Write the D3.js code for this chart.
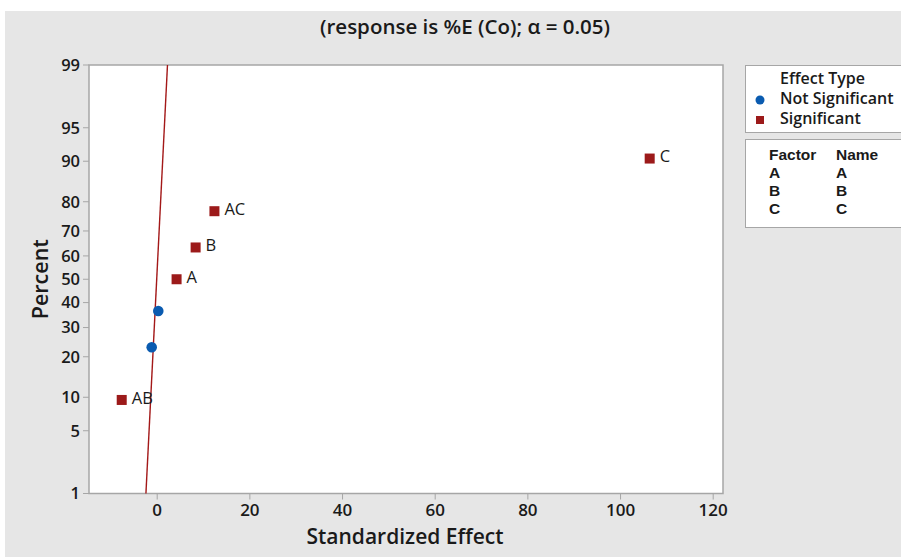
<!DOCTYPE html>
<html>
<head>
<meta charset="utf-8">
<script src="https://cdn.jsdelivr.net/npm/d3@7/dist/d3.min.js"></script>
<style>
  html, body { margin: 0; padding: 0; background: #ffffff; }
  svg { display: block; }
  text { font-family: "Open Sans", "Noto Sans", sans-serif; fill: #1a1a1a; }
  text.tbl { font-family: "Liberation Sans", Arial, sans-serif; }
</style>
</head>
<body>
<svg id="chart" width="901" height="557"></svg>
<script>
// Effects, ordered by rank
const terms       = ["AB", "BC", "ABC", "A", "B", "AC", "C"];
const effects     = [-7.55, -1.08, 0.34, 4.29, 8.4, 12.46, 106.4];
const percents    = [9.5, 23.0, 36.5, 50.0, 63.5, 77.0, 90.5];
const significant = [true, false, false, true, true, true, true];

// Reference line (effect vs. percent)
const refEffect  = [-2.326, 2.326];
const refPercent = [1, 99];

// Axis ticks
const xTicks = [0, 20, 40, 60, 80, 100, 120];
const yTicks = [1, 5, 10, 20, 30, 40, 50, 60, 70, 80, 90, 95, 99];

// Legend contents
const effectTypes = ["Not Significant", "Significant"];
const factors     = ["A", "B", "C"];
const factorNames = ["A", "B", "C"];

const colBlue = "#0a5bb0";
const colRed  = "#9c1a1a";

// Inverse standard normal CDF (Acklam)
function probit(p) {
  const a = [-3.969683028665376e+01, 2.209460984245205e+02, -2.759285104469687e+02,
             1.383577518672690e+02, -3.066479806614716e+01, 2.506628277459239e+00];
  const b = [-5.447609879822406e+01, 1.615858368580409e+02, -1.556989798598866e+02,
             6.680131188771972e+01, -1.328068155288572e+01];
  const c = [-7.784894002430293e-03, -3.223964580411365e-01, -2.400758277161838e+00,
             -2.549671010060251e+00, 4.374664141464968e+00, 2.938163982698783e+00];
  const d = [7.784695709041462e-03, 3.224671290700398e-01, 2.445134137142996e+00,
             3.754408661907416e+00];
  const pl = 0.02425, ph = 1 - pl;
  let q, r;
  if (p < pl) {
    q = Math.sqrt(-2 * Math.log(p));
    return (((((c[0]*q+c[1])*q+c[2])*q+c[3])*q+c[4])*q+c[5]) /
           ((((d[0]*q+d[1])*q+d[2])*q+d[3])*q+1);
  } else if (p <= ph) {
    q = p - 0.5; r = q * q;
    return (((((a[0]*r+a[1])*r+a[2])*r+a[3])*r+a[4])*r+a[5])*q /
           (((((b[0]*r+b[1])*r+b[2])*r+b[3])*r+b[4])*r+1);
  } else {
    q = Math.sqrt(-2 * Math.log(1 - p));
    return -(((((c[0]*q+c[1])*q+c[2])*q+c[3])*q+c[4])*q+c[5]) /
            ((((d[0]*q+d[1])*q+d[2])*q+d[3])*q+1);
  }
}

const svg = d3.select("#chart");

// Figure background
svg.append("rect").attr("x", 5).attr("y", 11).attr("width", 896).attr("height", 546)
  .attr("fill", "#e6e6e6");

const plot = { left: 89, right: 723, top: 65, bottom: 493.5 };

const x = d3.scaleLinear().domain([0, 120]).range([156.7, 712.7]);
const z = d3.scaleLinear().domain([probit(0.01), probit(0.99)]).range([plot.bottom, plot.top]);
const y = p => z(probit(p / 100));

// Plot area
svg.append("rect")
  .attr("x", plot.left).attr("y", plot.top)
  .attr("width", plot.right - plot.left).attr("height", plot.bottom - plot.top)
  .attr("fill", "#ffffff").attr("stroke", "#a6a6a6").attr("stroke-width", 1.5);

// X axis
const xAxis = svg.append("g").attr("transform", `translate(0,${plot.bottom})`)
  .call(d3.axisBottom(x).tickValues(xTicks).tickSize(6).tickPadding(4));
xAxis.select(".domain").remove();
xAxis.selectAll(".tick line").attr("stroke", "#a6a6a6");
xAxis.selectAll(".tick text").attr("font-size", 17).attr("font-weight", 600)
  .attr("fill", "#1a1a1a").style("font-family", "'Open Sans', sans-serif");

// Y axis (normal probability scale)
const yAxis = svg.append("g").attr("transform", `translate(${plot.left},0)`);
yTicks.forEach(t => {
  const g = yAxis.append("g").attr("transform", `translate(0,${y(t)})`);
  g.append("line").attr("x1", -6).attr("x2", 0).attr("stroke", "#a6a6a6");
  g.append("text").attr("x", -9).attr("dy", "0.35em").attr("text-anchor", "end")
    .attr("font-size", 16.5).attr("font-weight", 600).text(t);
});

// Reference line
svg.append("line")
  .attr("x1", x(refEffect[0])).attr("y1", y(refPercent[0]))
  .attr("x2", x(refEffect[1])).attr("y2", y(refPercent[1]))
  .attr("stroke", "#a31818").attr("stroke-width", 1.4);

// Points
const pts = terms.map((t, i) => ({ term: t, e: effects[i], p: percents[i], sig: significant[i] }));

svg.selectAll("circle.ns").data(pts.filter(d => !d.sig)).join("circle")
  .attr("class", "ns")
  .attr("cx", d => x(d.e)).attr("cy", d => y(d.p)).attr("r", 5.3)
  .attr("fill", colBlue);

const sq = 10;
svg.selectAll("rect.sig").data(pts.filter(d => d.sig)).join("rect")
  .attr("class", "sig")
  .attr("x", d => x(d.e) - sq / 2).attr("y", d => y(d.p) - sq / 2)
  .attr("width", sq).attr("height", sq)
  .attr("fill", colRed);

svg.selectAll("text.lbl").data(pts.filter(d => d.sig)).join("text")
  .attr("class", "lbl")
  .attr("x", d => x(d.e) + 10).attr("y", d => y(d.p) - 2)
  .attr("dy", "0.35em").attr("font-size", 16.5)
  .text(d => d.term);

// Title and axis titles
svg.append("text").attr("x", 465).attr("y", 27).attr("dy", "0.35em")
  .attr("text-anchor", "middle").attr("font-size", 20.5).attr("font-weight", 600)
  .text("(response is %E (Co); \u03b1 = 0.05)");

svg.append("text").attr("x", 405).attr("y", 537).attr("dy", "0.35em")
  .attr("text-anchor", "middle").attr("font-size", 21).attr("font-weight", 600)
  .text("Standardized Effect");

svg.append("text")
  .attr("transform", `translate(40,${(plot.top + plot.bottom) / 2}) rotate(-90)`)
  .attr("dy", "0.35em").attr("text-anchor", "middle")
  .attr("font-size", 21.5).attr("font-weight", 600)
  .text("Percent");

// Legend: effect type
const legFont = 16;
const leg1 = svg.append("g");
leg1.append("rect").attr("x", 745.5).attr("y", 65.5).attr("width", 170).attr("height", 67)
  .attr("fill", "#ffffff").attr("stroke", "#a6a6a6");
leg1.append("text").attr("x", 780).attr("y", 78).attr("dy", "0.35em")
  .attr("font-size", legFont).attr("font-weight", 600).text("Effect Type");
effectTypes.forEach((t, i) => {
  const cy = 98 + i * 20;
  if (i === 0) {
    leg1.append("circle").attr("cx", 760).attr("cy", cy + 2).attr("r", 4.5).attr("fill", colBlue);
  } else {
    leg1.append("rect").attr("x", 756).attr("y", cy - 2).attr("width", 8).attr("height", 8).attr("fill", colRed);
  }
  leg1.append("text").attr("x", 780).attr("y", cy).attr("dy", "0.35em")
    .attr("font-size", legFont).attr("font-weight", 600).text(t);
});

// Legend: factor names table (compact font so the 18px rows do not collide)
const leg2 = svg.append("g");
leg2.append("rect").attr("x", 745.5).attr("y", 139.5).attr("width", 170).attr("height", 88)
  .attr("fill", "#ffffff").attr("stroke", "#a6a6a6");
const columns = [
  { x: 769, lines: ["Factor", ...factors] },
  { x: 836, lines: ["Name", ...factorNames] }
];
columns.forEach(col => {
  col.lines.forEach((s, i) => {
    leg2.append("text").attr("class", "tbl")
      .attr("x", col.x).attr("y", 155 + i * 18).attr("dy", "0.35em")
      .attr("font-size", 15.5).attr("font-weight", 700)
      .text(s);
  });
});
</script>
</body>
</html>
